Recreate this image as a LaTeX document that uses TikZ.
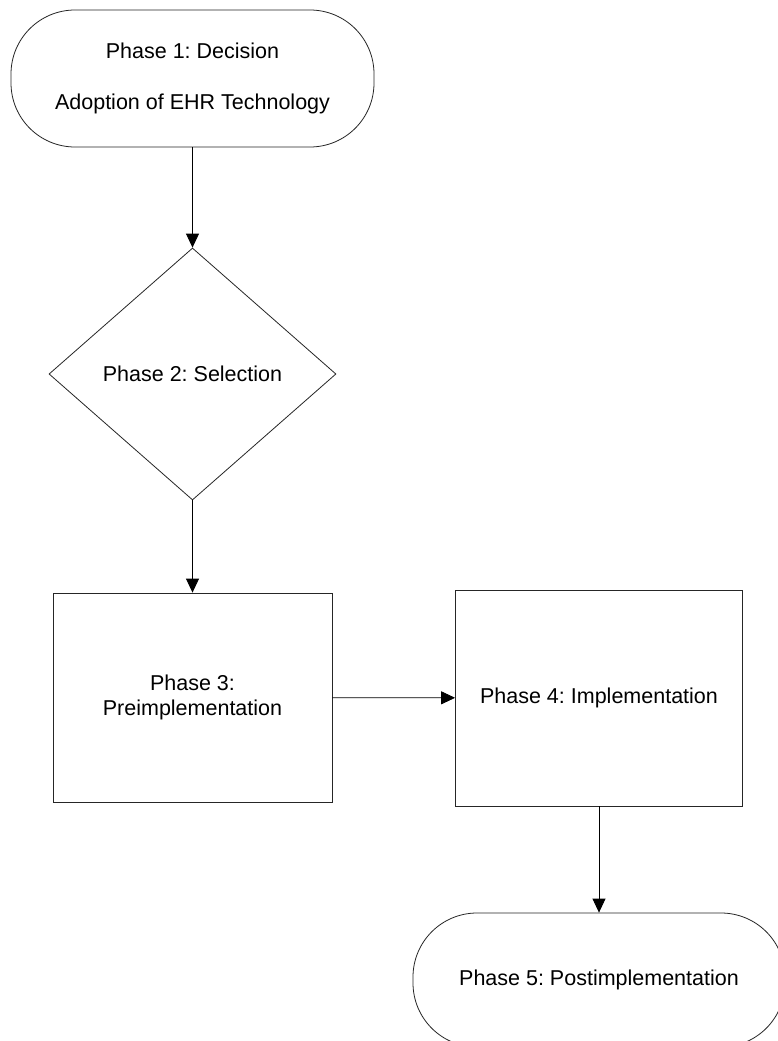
\documentclass[tikz,border=0pt]{standalone}
\usepackage{fontspec}
\setmainfont{Liberation Sans}
\usetikzlibrary{shapes.geometric,arrows.meta}
\frenchspacing
\begin{document}
\begin{tikzpicture}[x=1pt,y=-1pt,
  box/.style={draw=black!85, line width=0.8pt, inner sep=0pt, font=\fontsize{21.5}{25}\selectfont, align=center},
  term/.style={box, rounded corners=64pt},
  conn/.style={draw=black, line width=0.8pt, -{Triangle[length=14pt,width=13pt]}}]
\useasboundingbox (0,0) rectangle (778,1041);
\clip (0,0) rectangle (778,1041);
\fill[white] (0,0) rectangle (778,1041);
\node[term, minimum width=363pt, minimum height=137pt] (p1) at (192.5,78.5) {Phase 1: Decision\\[26pt]Adoption of EHR Technology};
\node[box, diamond, minimum width=287pt, minimum height=252pt] (p2) at (192.5,374) {Phase 2: Selection};
\node[box, minimum width=279pt, minimum height=209pt] (p3) at (192.5,697.5) {Phase 3:\\Preimplementation};
\node[box, minimum width=287pt, minimum height=216pt] (p4) at (599,698) {Phase 4: Implementation};
\node[term, minimum width=372pt, minimum height=134pt] (p5) at (599,980) {Phase 5: Postimplementation};
\draw[conn] (p1.south) -- (p2.north);
\draw[conn] (p2.south) -- (p3.north);
\draw[conn] (p3) -- (p4);
\draw[conn] (p4.south) -- (p5.north);
\end{tikzpicture}
\end{document}
